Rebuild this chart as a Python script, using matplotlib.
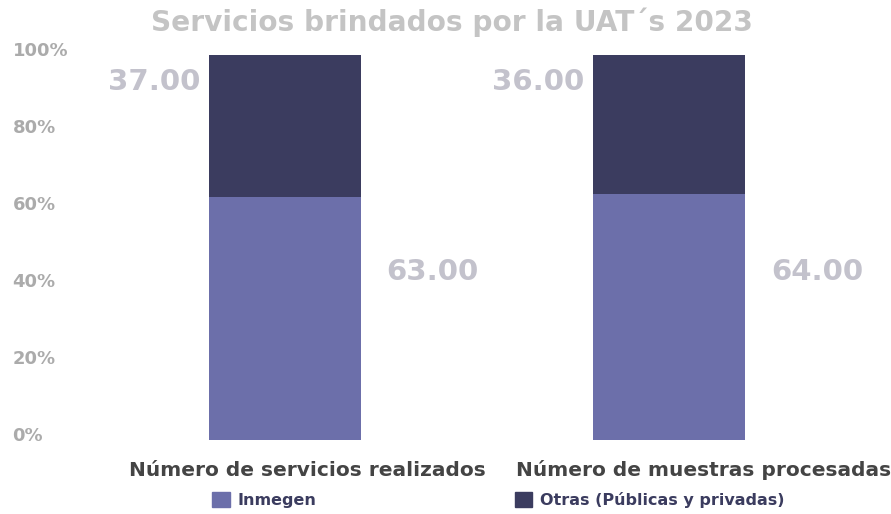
import matplotlib.pyplot as plt
import matplotlib.transforms as mtransforms
from matplotlib.patches import Patch

# data
categories = ["Número de servicios realizados", "Número de muestras procesadas"]
inmegen = [63.0, 64.0]
otras = [37.0, 36.0]
series_names = ["Inmegen", "Otras (Públicas y privadas)"]
yticks = [0, 20, 40, 60, 80, 100]

c_inm = "#6c6faa"
c_otr = "#3b3c5f"
c_val = "#c3c2cc"
c_tick = "#ababab"

plt.rcParams['font.family'] = ['DejaVu Sans']
plt.rcParams['font.weight'] = 'bold'

fig = plt.figure(figsize=(8.91, 5.14), dpi=100)
ax = fig.add_axes([93 / 891, 74 / 514, 768 / 891, 385 / 514])

x = list(range(len(categories)))
ax.bar(x, inmegen, width=0.396, color=c_inm)
ax.bar(x, otras, width=0.396, bottom=inmegen, color=c_otr)

ax.set_xlim(-0.5, 1.5)
ax.set_ylim(0, 100)
for s in ax.spines.values():
    s.set_visible(False)
ax.set_xticks([])
ax.set_yticks(yticks)
ax.set_yticklabels([f"{v}%" for v in yticks], color=c_tick, fontsize=13,
                   fontweight='bold', ha='left')
ax.tick_params(axis='y', length=0, pad=58)
# nudge tick labels up a few pixels like the reference
shift = mtransforms.ScaledTranslation(0, 4 / 72, fig.dpi_scale_trans)
for lab in ax.get_yticklabels():
    lab.set_transform(lab.get_transform() + shift)

# value labels
for i in x:
    ax.text(i - 0.34, 93, f"{otras[i]:.2f}", ha='center', va='center',
            fontsize=21, color=c_val, fontweight='bold')
    ax.text(i + 0.385, 43.6, f"{inmegen[i]:.2f}", ha='center', va='center',
            fontsize=21, color=c_val, fontweight='bold')

# category labels
offs = [0.057, 0.089]
for i, lab in enumerate(categories):
    ax.text(i + offs[i], -7.8, lab, ha='center', va='center', fontsize=14.5,
            color="#444444", fontweight='bold')

fig.text(452 / 891, 1 - 22 / 514, "Servicios brindados por la UAT´s 2023",
         ha='center', va='center', fontsize=20.2, color="#c4c4c4", fontweight='bold')

handles = [Patch(color=c_inm), Patch(color=c_otr)]
leg = fig.legend(handles, series_names, loc='center left', ncol=2,
                 bbox_to_anchor=(198 / 891, 1 - 500 / 514), frameon=False,
                 prop={'size': 11.5, 'weight': 'bold'}, handlelength=1.1,
                 handleheight=1.1, handletextpad=0.5, columnspacing=12.4)
for t in leg.get_texts():
    t.set_color("#3b3c5f")

fig.savefig("out.png", dpi=100)
